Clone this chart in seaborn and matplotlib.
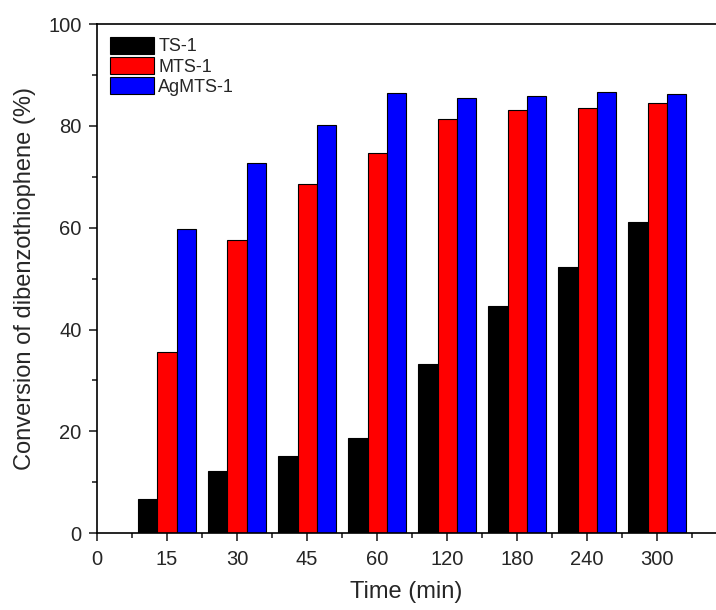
import pandas as pd
import numpy as np
import matplotlib
matplotlib.use('Agg')
import matplotlib.pyplot as plt
from matplotlib.ticker import MultipleLocator
import seaborn as sns

# Dane
times = ['15', '30', '45', '60', '120', '180', '240', '300']
ts1 = [6.7, 12.2, 15.1, 18.7, 33.2, 44.6, 52.3, 61.1]
mts1 = [35.6, 57.6, 68.6, 74.7, 81.3, 83.1, 83.5, 84.5]
agmts1 = [59.7, 72.7, 80.2, 86.4, 85.5, 85.9, 86.6, 86.2]
catalysts = ['TS-1', 'MTS-1', 'AgMTS-1']
colors = ['#000000', '#ff0000', '#0000ff']

df = pd.DataFrame({
    'time': times * 3,
    'catalyst': [c for c in catalysts for _ in times],
    'conversion': ts1 + mts1 + agmts1,
})

sns.set_style('ticks')
plt.rcParams['font.family'] = ['Liberation Sans', 'DejaVu Sans']

fig = plt.figure(figsize=(7.16, 6.10), dpi=100)
ax = fig.add_axes([0.1355, 0.126, 0.8645, 0.8344])

sns.barplot(data=df, x='time', y='conversion', hue='catalyst',
            order=['0'] + times, hue_order=catalysts, palette=colors,
            width=0.82, gap=0, edgecolor='black', linewidth=0.8,
            saturation=1, ax=ax)

ax.set_xlim(0, 8.84)
ax.set_ylim(0, 100)
ax.yaxis.set_major_locator(MultipleLocator(20))
ax.yaxis.set_minor_locator(MultipleLocator(10))
ax.xaxis.set_minor_locator(MultipleLocator(0.5))
ax.tick_params(which='major', direction='out', length=6, width=1.2, labelsize=14.5)
ax.tick_params(which='minor', direction='out', length=3.5, width=1.2)
ax.tick_params(axis='x', which='major', pad=6)
ax.tick_params(axis='y', which='major', pad=5)
ax.spines['right'].set_visible(False)
for s in ['left', 'bottom', 'top']:
    ax.spines[s].set_linewidth(1.2)
    ax.spines[s].set_color('black')

ax.set_xlabel('Time (min)', fontsize=17, labelpad=9)
ax.set_ylabel('Conversion of dibenzothiophene (%)', fontsize=17, labelpad=9)

handles, labels = ax.get_legend_handles_labels()
ax.legend(handles, labels, loc='upper left', frameon=False, fontsize=13,
          handlelength=2.45, handleheight=1.05, labelspacing=0.1,
          handletextpad=0.25, borderaxespad=0.3)

fig.savefig('out.png', dpi=100)
